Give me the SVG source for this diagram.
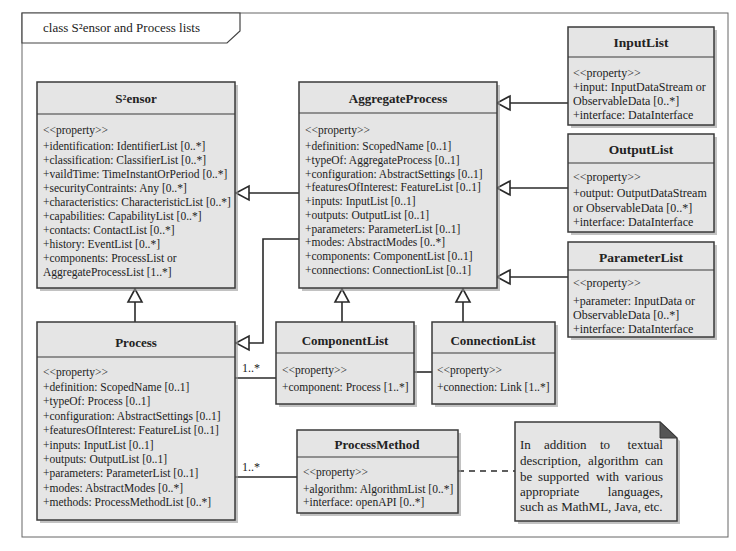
<svg xmlns="http://www.w3.org/2000/svg" width="736" height="551" viewBox="0 0 736 551">
<style>
text{font-family:"Liberation Serif","Times New Roman",serif;fill:#222}
.t{font-size:13px;font-weight:bold;text-anchor:middle}
.tr{font-size:13.5px;font-weight:bold;text-anchor:middle}
.a{font-size:11.5px}
.ar{font-size:12px}
.n{font-size:12px}
.nt{font-size:13px}
.box{fill:#e5e5e5;stroke:#3a3a3a;stroke-width:1.5}
.sh{fill:#9a9a9a;opacity:0.6}
.sep{stroke:#3a3a3a;stroke-width:1.2}
.ln{fill:none;stroke:#2a2a2a;stroke-width:1.6}
.tri{fill:#fff;stroke:#2a2a2a;stroke-width:1.6}
.dash{fill:none;stroke:#2a2a2a;stroke-width:1.6;stroke-dasharray:6,5}
</style>
<rect x="0" y="0" width="736" height="551" fill="#fff"/>
<g id="frame">
<rect x="22" y="13" width="706" height="524" fill="#fff" stroke="#666" stroke-width="1"/>
<path d="M22,13 H240 V31 L227,43 H22 Z" fill="#fff" stroke="#444" stroke-width="1.2"/>
<text x="43" y="32" style="font-size:13px">class S²ensor and Process lists</text>
</g>

<g id="connectors">
<path class="ln" d="M568,103 H510"/>
<polygon class="tri" points="497,103 510,96 510,110"/>
<path class="ln" d="M568,188 H510"/>
<polygon class="tri" points="497,188 510,181 510,195"/>
<path class="ln" d="M568,277 H510"/>
<polygon class="tri" points="497,277 510,270 510,284"/>
<path class="ln" d="M299,193 H249"/>
<polygon class="tri" points="236,193 249,186 249,200"/>
<path class="ln" d="M299,239 H263 V343 H249"/>
<polygon class="tri" points="236,343 249,336 249,350"/>
<path class="ln" d="M135,322 V302"/>
<polygon class="tri" points="135,289 128,302 142,302"/>
<path class="ln" d="M342,322 V302"/>
<polygon class="tri" points="342,289 335,302 349,302"/>
<path class="ln" d="M463,322 V302"/>
<polygon class="tri" points="463,289 456,302 470,302"/>
<path class="ln" d="M235,378 H276"/>
<text class="n" x="242" y="372">1..*</text>
<path class="ln" d="M414,372 H432"/>
<path class="ln" d="M235,477 H297"/>
<text class="n" x="242" y="471">1..*</text>
<path class="dash" d="M458,471 H515"/>
</g>

<g id="sensor">
<rect class="sh" x="40" y="85" width="198" height="206"/>
<rect class="box" x="37" y="82" width="198" height="206"/>
<line class="sep" x1="37" y1="114" x2="235" y2="114"/>
<text class="t" x="136" y="103">S²ensor</text>
<text class="a" x="43" y="134">&lt;&lt;property&gt;&gt;</text>
<text class="a" x="43" y="150">+identification: IdentifierList [0..*]</text>
<text class="a" x="43" y="164">+classification: ClassifierList [0..*]</text>
<text class="a" x="43" y="178">+vaildTime: TimeInstantOrPeriod [0..*]</text>
<text class="a" x="43" y="192">+securityContraints: Any [0..*]</text>
<text class="a" x="43" y="206">+characteristics: CharacteristicList [0..*]</text>
<text class="a" x="43" y="220">+capabilities: CapabilityList [0..*]</text>
<text class="a" x="43" y="234">+contacts: ContactList [0..*]</text>
<text class="a" x="43" y="248">+history: EventList [0..*]</text>
<text class="a" x="43" y="262">+components: ProcessList or</text>
<text class="a" x="43" y="276">AggregateProcessList [1..*]</text>
</g>

<g id="aggregateprocess">
<rect class="sh" x="302" y="85" width="198" height="206"/>
<rect class="box" x="299" y="82" width="198" height="206"/>
<line class="sep" x1="299" y1="113" x2="497" y2="113"/>
<text class="t" x="398" y="103">AggregateProcess</text>
<text class="a" x="305" y="134">&lt;&lt;property&gt;&gt;</text>
<text class="a" x="305" y="150">+definition: ScopedName [0..1]</text>
<text class="a" x="305" y="164">+typeOf: AggregateProcess [0..1]</text>
<text class="a" x="305" y="178">+configuration: AbstractSettings [0..1]</text>
<text class="a" x="305" y="191">+featuresOfInterest: FeatureList [0..1]</text>
<text class="a" x="305" y="205">+inputs: InputList [0..1]</text>
<text class="a" x="305" y="219">+outputs: OutputList [0..1]</text>
<text class="a" x="305" y="233">+parameters: ParameterList [0..1]</text>
<text class="a" x="305" y="246">+modes: AbstractModes [0..*]</text>
<text class="a" x="305" y="260">+components: ComponentList [0..1]</text>
<text class="a" x="305" y="274">+connections: ConnectionList [0..1]</text>
</g>

<g id="inputlist">
<rect class="sh" x="571" y="30" width="146" height="98"/>
<rect class="box" x="568" y="27" width="146" height="98"/>
<line class="sep" x1="568" y1="57" x2="714" y2="57"/>
<text class="tr" x="641" y="47">InputList</text>
<text class="ar" x="573" y="77">&lt;&lt;property&gt;&gt;</text>
<text class="ar" x="573" y="91">+input: InputDataStream or</text>
<text class="ar" x="573" y="105">ObservableData [0..*]</text>
<text class="ar" x="573" y="119">+interface: DataInterface</text>
</g>

<g id="outputlist">
<rect class="sh" x="571" y="137" width="146" height="98"/>
<rect class="box" x="568" y="134" width="146" height="98"/>
<line class="sep" x1="568" y1="163" x2="714" y2="163"/>
<text class="tr" x="641" y="154">OutputList</text>
<text class="ar" x="573" y="181">&lt;&lt;property&gt;&gt;</text>
<text class="ar" x="573" y="197">+output: OutputDataStream</text>
<text class="ar" x="573" y="212">or ObservableData [0..*]</text>
<text class="ar" x="573" y="226">+interface: DataInterface</text>
</g>

<g id="parameterlist">
<rect class="sh" x="571" y="245" width="146" height="95"/>
<rect class="box" x="568" y="242" width="146" height="95"/>
<line class="sep" x1="568" y1="270" x2="714" y2="270"/>
<text class="tr" x="641" y="262">ParameterList</text>
<text class="ar" x="573" y="287">&lt;&lt;property&gt;&gt;</text>
<text class="ar" x="573" y="305">+parameter: InputData or</text>
<text class="ar" x="573" y="319">ObservableData [0..*]</text>
<text class="ar" x="573" y="333">+interface: DataInterface</text>
</g>

<g id="process">
<rect class="sh" x="40" y="325" width="198" height="198"/>
<rect class="box" x="37" y="322" width="198" height="198"/>
<line class="sep" x1="37" y1="357" x2="235" y2="357"/>
<text class="t" x="136" y="347">Process</text>
<text class="a" x="43" y="376">&lt;&lt;property&gt;&gt;</text>
<text class="a" x="43" y="391">+definition: ScopedName [0..1]</text>
<text class="a" x="43" y="405">+typeOf: Process [0..1]</text>
<text class="a" x="43" y="420">+configuration: AbstractSettings [0..1]</text>
<text class="a" x="43" y="434">+featuresOfInterest: FeatureList [0..1]</text>
<text class="a" x="43" y="449">+inputs: InputList [0..1]</text>
<text class="a" x="43" y="463">+outputs: OutputList [0..1]</text>
<text class="a" x="43" y="477">+parameters: ParameterList [0..1]</text>
<text class="a" x="43" y="492">+modes: AbstractModes [0..*]</text>
<text class="a" x="43" y="506">+methods: ProcessMethodList [0..*]</text>
</g>

<g id="componentlist">
<rect class="sh" x="279" y="325" width="138" height="82"/>
<rect class="box" x="276" y="322" width="138" height="82"/>
<line class="sep" x1="276" y1="353" x2="414" y2="353"/>
<text class="t" x="345" y="345">ComponentList</text>
<text class="a" x="282" y="374">&lt;&lt;property&gt;&gt;</text>
<text class="a" x="282" y="391">+component: Process [1..*]</text>
</g>

<g id="connectionlist">
<rect class="sh" x="435" y="325" width="123" height="82"/>
<rect class="box" x="432" y="322" width="123" height="82"/>
<line class="sep" x1="432" y1="353" x2="555" y2="353"/>
<text class="t" x="493" y="345">ConnectionList</text>
<text class="a" x="437" y="374">&lt;&lt;property&gt;&gt;</text>
<text class="a" x="437" y="391">+connection: Link [1..*]</text>
</g>

<g id="processmethod">
<rect class="sh" x="300" y="433" width="161" height="83"/>
<rect class="box" x="297" y="430" width="161" height="83"/>
<line class="sep" x1="297" y1="457" x2="458" y2="457"/>
<text class="t" x="377" y="449">ProcessMethod</text>
<text class="a" x="303" y="476">&lt;&lt;property&gt;&gt;</text>
<text class="a" x="303" y="493">+algorithm: AlgorithmList [0..*]</text>
<text class="a" x="303" y="506">+interface: openAPI [0..*]</text>
</g>

<g id="note">
<path d="M518,425 H663 L680,441 V524 H518 Z" fill="#9a9a9a" opacity="0.6"/>
<path d="M515,422 H660 L677,438 V521 H515 Z" fill="#e5e5e5" stroke="#3a3a3a" stroke-width="1.5"/>
<path d="M660,422 L677,438 H660 Z" fill="#555" stroke="#3a3a3a" stroke-width="1"/>
<text class="nt" x="520" y="449">In</text>
<text class="nt" x="544" y="449">addition</text>
<text class="nt" x="600" y="449">to</text>
<text class="nt" x="663" y="449" text-anchor="end">textual</text>
<text class="nt" x="520" y="465">description,</text>
<text class="nt" x="588" y="465">algorithm</text>
<text class="nt" x="663" y="465" text-anchor="end">can</text>
<text class="nt" x="520" y="481">be</text>
<text class="nt" x="538" y="481">supported</text>
<text class="nt" x="596" y="481">with</text>
<text class="nt" x="663" y="481" text-anchor="end">various</text>
<text class="nt" x="520" y="496">appropriate</text>
<text class="nt" x="663" y="496" text-anchor="end">languages,</text>
<text class="nt" x="520" y="511">such as MathML, Java, etc.</text>
</g>
</svg>
